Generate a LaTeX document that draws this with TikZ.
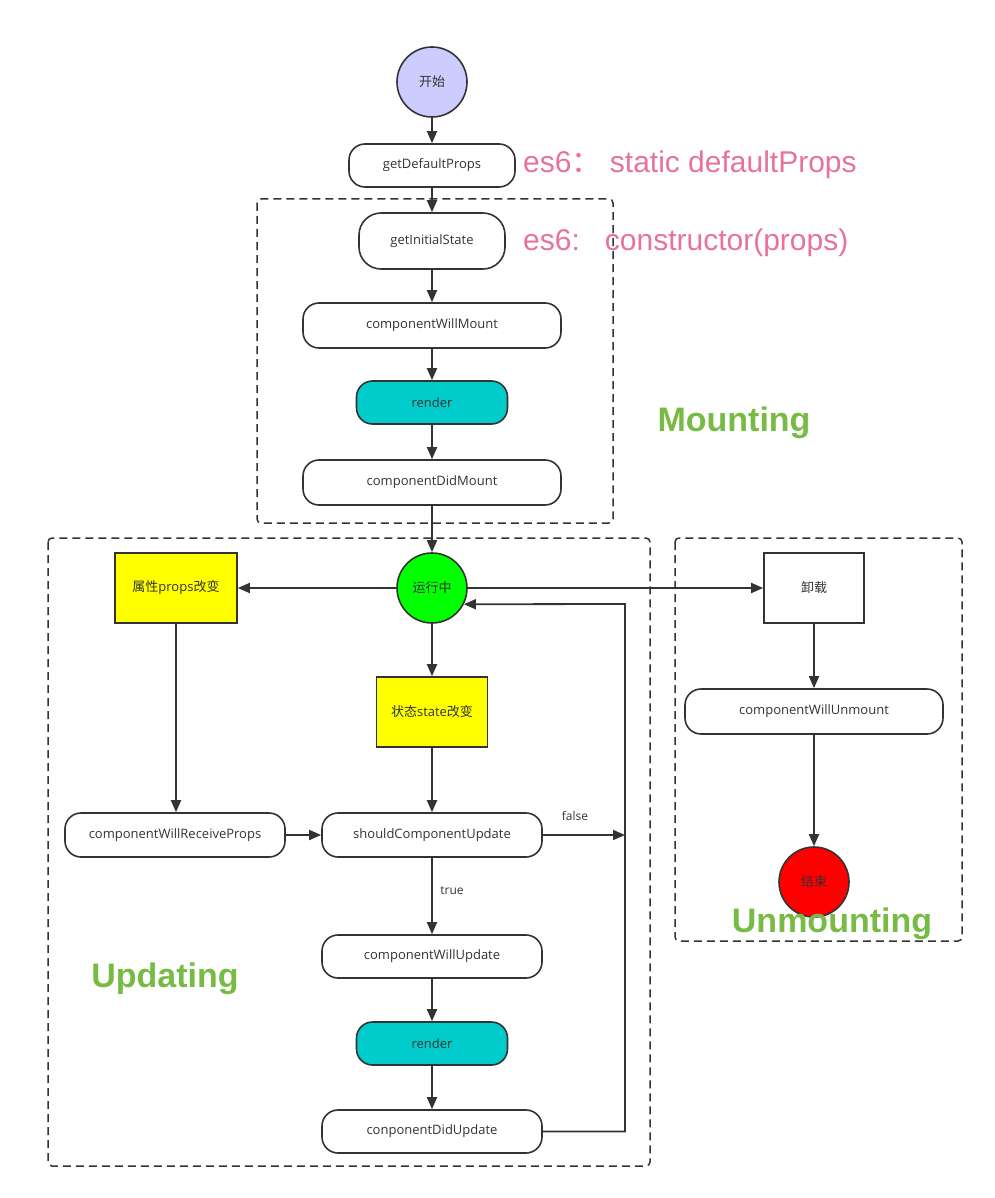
\documentclass[tikz,border=0pt]{standalone}
\usepackage{fontspec}
\setmainfont{Open Sans}
\newfontfamily\cjk{Noto Sans CJK SC}
\newfontfamily\arialf{Liberation Sans}
\usetikzlibrary{arrows.meta,shapes.geometric}
\definecolor{ln}{HTML}{333333}
\definecolor{pinkt}{HTML}{E8729A}
\definecolor{greent}{HTML}{77BB44}
\definecolor{startc}{HTML}{CCCCFF}
\definecolor{cyanc}{HTML}{00CCCC}
\definecolor{runc}{HTML}{00FF00}
\definecolor{endc}{HTML}{FF0000}
\definecolor{yel}{HTML}{FFFF00}
\begin{document}
\begin{tikzpicture}[x=1pt,y=-1pt,
  every node/.style={text=ln, font=\fontsize{13}{15}\selectfont, inner sep=0pt},
  rbox/.style={draw=ln, line width=1.6pt, rounded corners=#1, fill=white},
  rbox/.default=16pt,
  sq/.style={draw=ln, line width=1.6pt, minimum width=#1, minimum height=70pt},
  circ/.style={draw=ln, line width=1.6pt, circle, minimum size=70pt},
  arr/.style={draw=ln, line width=1.8pt, -{Triangle[length=12pt,width=10pt]}},
  grp/.style={draw=ln, line width=1.5pt, dash pattern=on 8pt off 5pt, rounded corners=4pt},
  phase/.style={text=greent, font=\arialf\bfseries\fontsize{34}{38}\selectfont},
  note/.style={text=pinkt, font=\arialf\fontsize{30}{34}\selectfont, anchor=west},
  lbl/.style={font=\fontsize{12}{14}\selectfont}
]
\useasboundingbox (0,0) rectangle (994,1198);
% groups
\draw[grp] (257,199) rectangle (613,523);
\draw[grp] (48,538) rectangle (650,1166);
\draw[grp] (675,538) rectangle (962,941);

% nodes
\node[circ, fill=startc] (start) at (432,82) {\cjk 开始};
\node[rbox, minimum width=166pt, minimum height=43pt] (gdp) at (432,165.5) {getDefaultProps};
\node[rbox=22pt, minimum width=146pt, minimum height=56pt] (gis) at (432,241) {getInitialState};
\node[rbox, minimum width=258pt, minimum height=45pt] (cwm) at (432,325.5) {componentWillMount};
\node[rbox, fill=cyanc, minimum width=151pt, minimum height=43pt] (r1) at (432,402.5) {render};
\node[rbox, minimum width=258pt, minimum height=45pt] (cdm) at (432,482.5) {componentDidMount};

\node[note] (n1) at (523,165) {es6{\cjk ：}\ static defaultProps};
\node[note] (n2) at (523,243) {es6:\ \ \ constructor(props)};
\node[phase] (mnt) at (734,423) {Mounting};

\node[circ, fill=runc] (run) at (432,588) {\cjk 运行中};
\node[sq=122pt, fill=yel] (props) at (176,588) {{\cjk 属性}props{\cjk 改变}};
\node[sq=100pt, fill=white] (unl) at (814,588) {\cjk 卸载};
\node[sq=111pt, fill=yel] (state) at (432,712) {{\cjk 状态}state{\cjk 改变}};

\node[rbox, minimum width=220pt, minimum height=44pt] (cwrp) at (175,835) {componentWillReceiveProps};
\node[rbox, minimum width=220pt, minimum height=44pt] (scu) at (432,835) {shouldComponentUpdate};
\node[rbox, minimum width=220pt, minimum height=43pt] (cwu) at (432,956.5) {componentWillUpdate};
\node[rbox, fill=cyanc, minimum width=151pt, minimum height=43pt] (r2) at (432,1043.5) {render};
\node[rbox, minimum width=220pt, minimum height=43pt] (cdu) at (432,1131.5) {conponentDidUpdate};
\node[phase] (upd) at (165,979) {Updating};

\node[rbox, minimum width=258pt, minimum height=45pt] (cwun) at (814,711.5) {componentWillUnmount};
\node[circ, fill=endc] (fin) at (814,882) {\cjk 结束};
\node[phase] (unm) at (832,924) {Unmounting};

\node[lbl] (lf) at (575,816) {false};
\node[lbl] (lt) at (452,891) {true};

\coordinate (fc) at (625,835);
\coordinate (lc) at (625,604);

% connectors
\draw[arr] (start) -- (gdp);
\draw[arr] (gdp) -- (gis);
\draw[arr] (gis) -- (cwm);
\draw[arr] (cwm) -- (r1);
\draw[arr] (r1) -- (cdm);
\draw[arr] (cdm) -- (run);
\draw[arr] (run) -- (props);
\draw[arr] (run) -- (unl);
\draw[arr] (run) -- (state);
\draw[arr] (props.south) -- (cwrp.north -| props.south);
\draw[arr] (state) -- (scu);
\draw[arr] (cwrp) -- (scu);
\draw[arr] (scu) -- (fc);
\draw[arr] (scu) -- (cwu);
\draw[arr] (cwu) -- (r2);
\draw[arr] (r2) -- (cdu);
\draw[arr] (cdu.east) -| (lc) -- (run.-27);
\draw[arr] (unl) -- (cwun);
\draw[arr] (cwun) -- (fin);
\end{tikzpicture}
\end{document}
